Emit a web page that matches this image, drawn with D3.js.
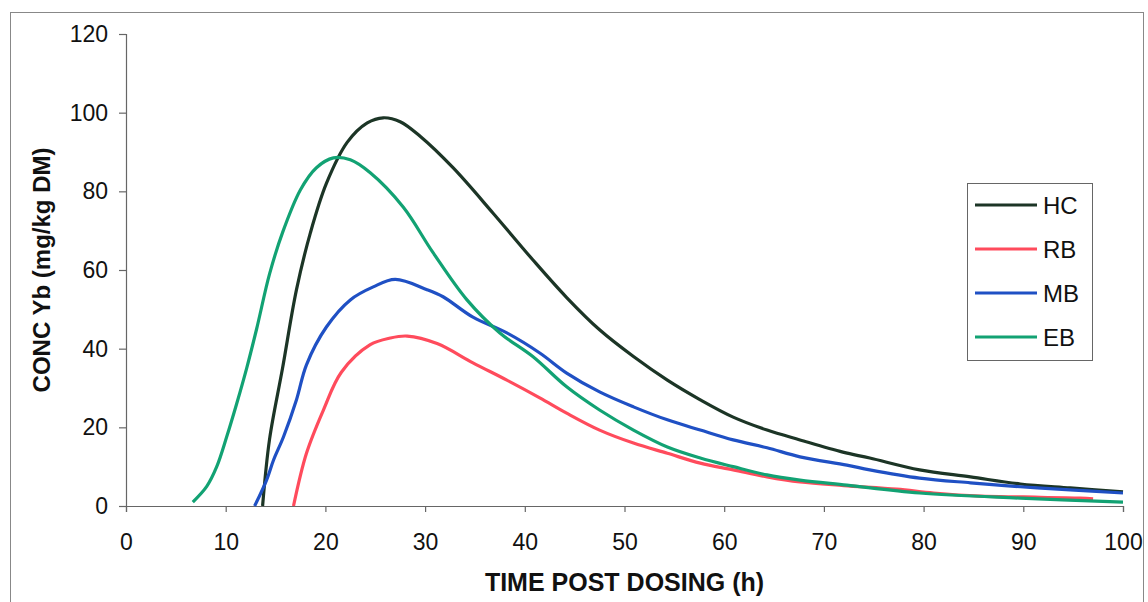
<!DOCTYPE html>
<html>
<head>
<meta charset="utf-8">
<script src="https://cdn.jsdelivr.net/npm/d3@7"></script>
<style>
  body { margin: 0; background: #fff; }
  svg { display: block; }
  text { font-family: Arial, "Liberation Sans", sans-serif; fill: #111; }
</style>
</head>
<body>
<div id="chart"></div>
<script>
// series (time h / conc mg/kg DM)
const seriesNames = ['HC', 'RB', 'MB', 'EB'];
const seriesColors = ['#1c3526', '#ff4b5c', '#1f50c4', '#12a273'];

const hcTime = [13.7, 14.4, 15.7, 17.1, 18.5, 20.1, 22.2, 24.2, 25.8, 27.5, 29.5, 32.8, 36.8, 40.8, 44.2, 47.5, 50.9, 54.3, 57.6, 60.9, 64.3, 67.6, 71.9, 74.6, 79.6, 84.7, 89.7, 94.7, 100];
const hcConc = [0, 17, 35, 55, 69.5, 82, 92.5, 97.4, 98.7, 97.7, 94, 86, 74.5, 62.6, 53, 44.8, 38, 32, 27, 22.6, 19.3, 16.8, 13.7, 12.2, 9.2, 7.4, 5.6, 4.6, 3.6];

const rbTime = [16.8, 18.1, 19.8, 21.6, 24.5, 26.5, 28.2, 31.2, 34.8, 38.2, 41.5, 44.2, 47.5, 50.9, 54.3, 57.6, 60.9, 64.3, 67.6, 72, 77.3, 81, 85.7, 90, 95.7, 97];
const rbConc = [0, 13.4, 24.4, 34, 41, 42.7, 43.2, 41.3, 36.4, 32, 27.5, 23.6, 19.3, 16, 13.4, 10.9, 9.2, 7.4, 6.1, 5.2, 4.3, 3.3, 2.5, 2.3, 2, 1.8];

const mbTime = [12.9, 14.1, 14.8, 15.8, 17.1, 18.1, 20.1, 22.5, 24.8, 27.0, 30.2, 31.8, 34.8, 38.2, 41.5, 44.2, 47.5, 50.9, 54.3, 57.6, 60.9, 64.3, 67.6, 72.3, 74.6, 79.6, 84.7, 89.7, 94.7, 100];
const mbConc = [0, 6.6, 11.7, 17.6, 27, 35.9, 45.5, 52.4, 55.7, 57.6, 55, 53.2, 48, 44, 38.9, 33.8, 29, 25.2, 21.9, 19.3, 16.8, 14.8, 12.5, 10.4, 9.2, 7.1, 5.9, 4.9, 4.1, 3.3];

const ebTime = [6.7, 8.1, 9.1, 10.1, 11.1, 12.1, 13.1, 14.4, 15.7, 17.5, 19.1, 20.8, 22.5, 24.5, 27.8, 30.8, 34.2, 37.5, 40.8, 44.2, 47.5, 50.9, 54.3, 57.6, 60.9, 64.3, 67.6, 72.3, 79.6, 89.7, 100];
const ebConc = [1, 5, 10, 17.6, 26, 35, 45, 59, 69.5, 80.4, 86, 88.5, 88, 84.7, 76, 64.4, 52.4, 44, 38, 30.3, 24.4, 19.3, 15, 12.2, 10, 7.9, 6.6, 5.3, 3.3, 2, 1];

const xTicks = [0, 10, 20, 30, 40, 50, 60, 70, 80, 90, 100];
const yTicks = [0, 20, 40, 60, 80, 100, 120];

const width = 1148, height = 602;
const svg = d3.select('#chart').append('svg')
    .attr('width', width)
    .attr('height', height);

// outer frame
svg.append('rect')
    .attr('x', 10.5).attr('y', 12.5)
    .attr('width', 1133).attr('height', 590)
    .attr('fill', 'none')
    .attr('stroke', '#888')
    .attr('stroke-width', 1);

const x = d3.scaleLinear().domain([0, 100]).range([126, 1123]);
const y = d3.scaleLinear().domain([0, 120]).range([506, 34]);

// axes
const yAxis = svg.append('g')
    .attr('transform', `translate(${x(0)},0)`)
    .call(d3.axisLeft(y).tickValues(yTicks).tickSize(7).tickPadding(11));
const xAxis = svg.append('g')
    .attr('transform', `translate(0,${y(0)})`)
    .call(d3.axisBottom(x).tickValues(xTicks).tickSize(6).tickPadding(22));

[xAxis, yAxis].forEach(a => {
    a.selectAll('path, line').attr('stroke', '#666').attr('stroke-width', 1.2);
    a.selectAll('text').style('font-size', '23px').attr('fill', '#111')
        .style('font-family', 'Arial, "Liberation Sans", sans-serif');
});

// axis titles
svg.append('text')
    .attr('x', (x(0) + x(100)) / 2)
    .attr('y', 591)
    .attr('text-anchor', 'middle')
    .style('font-size', '25px')
    .style('font-weight', 'bold')
    .text('TIME POST DOSING (h)');

svg.append('text')
    .attr('transform', `translate(50,${(y(0) + y(120)) / 2}) rotate(-90)`)
    .attr('text-anchor', 'middle')
    .style('font-size', '24px')
    .style('font-weight', 'bold')
    .text('CONC Yb (mg/kg DM)');

// lines
const series = [
    { t: hcTime, c: hcConc },
    { t: rbTime, c: rbConc },
    { t: mbTime, c: mbConc },
    { t: ebTime, c: ebConc }
];
const line = d3.line()
    .x(d => x(d[0]))
    .y(d => y(d[1]))
    .curve(d3.curveCatmullRom.alpha(0.5));

svg.append('g')
    .selectAll('path')
    .data(series)
    .enter()
    .append('path')
    .attr('d', d => line(d.t.map((t, i) => [t, d.c[i]])))
    .attr('fill', 'none')
    .attr('stroke', (d, i) => seriesColors[i])
    .attr('stroke-width', 3.2)
    .attr('stroke-linejoin', 'round');

// legend
const legend = svg.append('g').attr('transform', 'translate(967,183)');
legend.append('rect')
    .attr('x', 0.5).attr('y', 0.5)
    .attr('width', 125).attr('height', 177)
    .attr('fill', '#fff')
    .attr('stroke', '#666');
const items = legend.selectAll('.item')
    .data(seriesNames)
    .enter()
    .append('g')
    .attr('transform', (d, i) => `translate(0,${22 + i * 44})`);
items.append('line')
    .attr('x1', 8).attr('x2', 70)
    .attr('stroke', (d, i) => seriesColors[i])
    .attr('stroke-width', 3.2);
items.append('text')
    .attr('x', 76)
    .attr('y', 9)
    .style('font-size', '24px')
    .text(d => d);
</script>
</body>
</html>
